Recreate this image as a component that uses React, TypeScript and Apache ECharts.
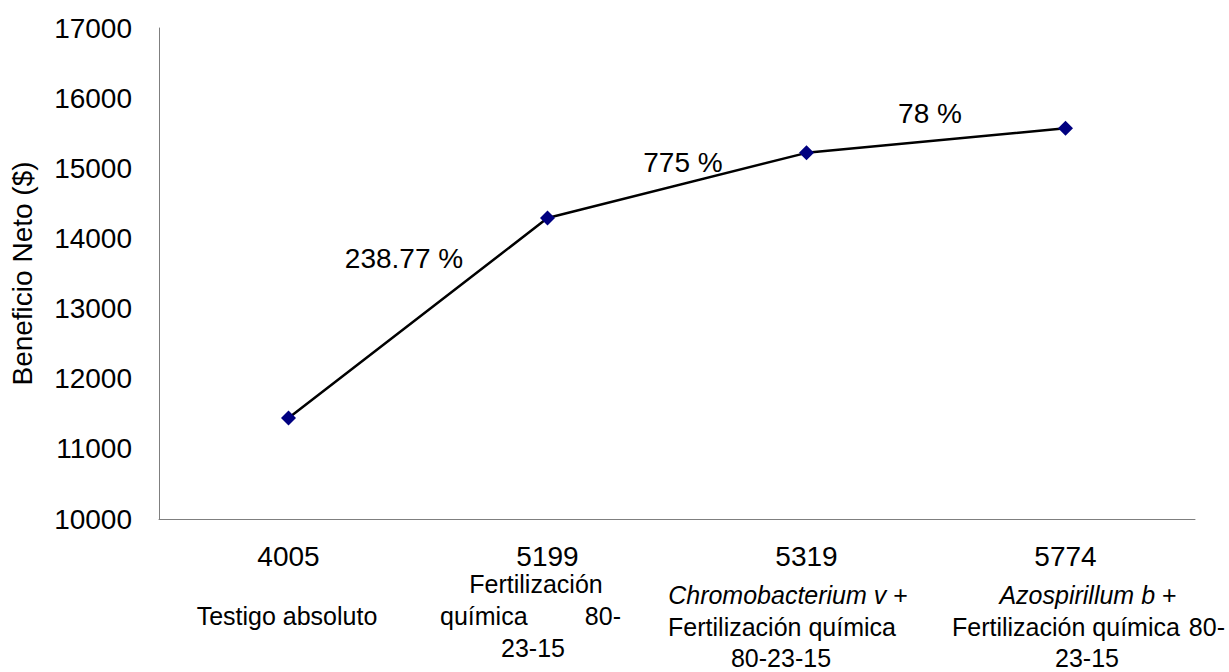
import React, { useEffect, useRef } from "react";
import * as echarts from "echarts";

const categories = ["4005", "5199", "5319", "5774"];
const values = [11440, 14290, 15220, 15570];
const yMin = 10000;
const yMax = 17000;
const yInterval = 1000;
const yTitle = "Beneficio Neto ($)";
const percentLabels = ["238.77 %", "775 %", "78 %"];

const FONT = "'Liberation Sans', Arial, sans-serif";
const CAT_FS = 25;

export default function App() {
  const ref = useRef<HTMLDivElement>(null);
  useEffect(() => {
    if (!ref.current) return;
    const chart = echarts.init(ref.current, null, { renderer: "svg" });
    const txt = (x: number, y: number, text: string, opts: any = {}) => ({
      type: "text",
      x,
      y,
      style: {
        text,
        fontFamily: FONT,
        fontSize: opts.fontSize ?? CAT_FS,
        fontStyle: opts.italic ? "italic" : "normal",
        fill: "#000",
        align: opts.align ?? "center",
        verticalAlign: "middle",
      },
    });
    const richPlus = (x: number, y: number, italicPart: string) => ({
      type: "text",
      x,
      y,
      style: {
        text: `{i|${italicPart}}{n| +}`,
        rich: {
          i: { fontFamily: FONT, fontSize: CAT_FS, fontStyle: "italic", fill: "#000" },
          n: { fontFamily: FONT, fontSize: CAT_FS, fill: "#000" },
        },
        align: "center",
        verticalAlign: "middle",
      },
    });
    chart.setOption({
      animation: false,
      grid: { left: 158, right: 34, top: 28, bottom: 153 },
      xAxis: {
        type: "category",
        data: categories,
        boundaryGap: true,
        axisLine: { lineStyle: { color: "#7f7f7f", width: 1 } },
        axisTick: { show: false },
        axisLabel: { color: "#000", fontFamily: FONT, fontSize: 28, margin: 23 },
      },
      yAxis: {
        type: "value",
        min: yMin,
        max: yMax,
        interval: yInterval,
        name: yTitle,
        nameLocation: "middle",
        nameGap: 123,
        nameTextStyle: { color: "#000", fontFamily: FONT, fontSize: 28 },
        axisLine: { show: true, lineStyle: { color: "#7f7f7f", width: 1 } },
        axisTick: { show: false },
        splitLine: { show: false },
        axisLabel: {
          color: "#000",
          fontFamily: FONT,
          fontSize: 28,
          margin: 27,
          formatter: (v: number) => String(v),
        },
      },
      series: [
        {
          type: "line",
          data: values,
          symbol: "diamond",
          symbolSize: 15,
          lineStyle: { color: "#000", width: 2.5 },
          itemStyle: { color: "#000080" },
        },
      ],
      graphic: [
        txt(404, 258, percentLabels[0], { fontSize: 28 }),
        txt(683, 162, percentLabels[1], { fontSize: 28 }),
        txt(930, 113, percentLabels[2], { fontSize: 28 }),
        txt(287, 616, "Testigo absoluto"),
        txt(536, 584, "Fertilización"),
        txt(440, 616, "química", { align: "left" }),
        txt(621, 616, "80-", { align: "right" }),
        txt(533, 648, "23-15"),
        richPlus(788, 595, "Chromobacterium v"),
        txt(782, 627, "Fertilización química"),
        txt(781, 658, "80-23-15"),
        richPlus(1088, 595, "Azospirillum b"),
        txt(952, 627, "Fertilización química", { align: "left" }),
        txt(1225, 627, "80-", { align: "right" }),
        txt(1087, 658, "23-15"),
      ],
    });
    return () => chart.dispose();
  }, []);
  return <div ref={ref} style={{ width: 1229, height: 672, position: "absolute", left: 0, top: 0 }} />;
}
